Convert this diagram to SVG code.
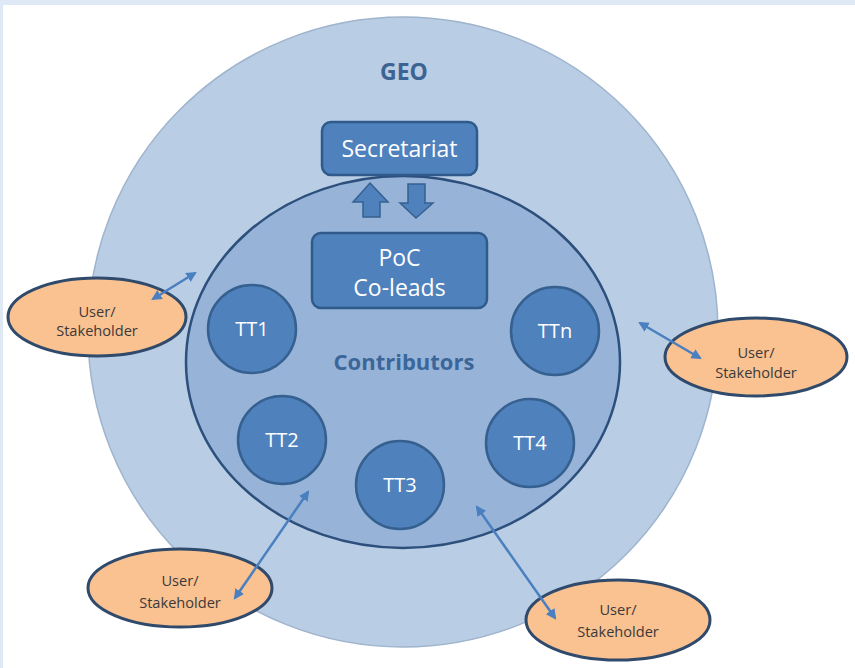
<svg xmlns="http://www.w3.org/2000/svg" width="855" height="668" viewBox="0 0 855 668">
<defs>
<style>
.lbl{font-family:"Open Sans","Liberation Sans",sans-serif;text-anchor:middle}
.wt{fill:#ffffff}
.tt{fill:#4f81bd;stroke:#36608f;stroke-width:2.5}
.box{fill:#4f81bd;stroke:#2f5a8a;stroke-width:2.5}
.usr{fill:#fac191;stroke:#2f4a6b;stroke-width:3}
.ut{fill:#3a3a3a;font-size:14.6px}
.conn{stroke:#4a7fc0;stroke-width:2.5;fill:none;marker-start:url(#ah);marker-end:url(#ah)}
.blk{fill:#4f81bd;stroke:#36608f;stroke-width:1.5}
</style>
<marker id="ah" viewBox="0 0 10 10" refX="8" refY="5" markerWidth="4.2" markerHeight="4.2" orient="auto-start-reverse" markerUnits="strokeWidth">
<path d="M0,0 L10,5 L0,10 z" fill="#4a7fc0"/>
</marker>
</defs>
<rect x="0" y="0" width="855" height="668" fill="#ffffff"/>
<rect x="0" y="0" width="855" height="5" fill="#dfe9f5"/>
<rect x="0" y="0" width="3" height="668" fill="#dfe9f5"/>

<g id="geo">
<circle cx="403" cy="332" r="315" fill="#b9cde5" stroke="#9fb4cd" stroke-width="1.5"/>
<text class="lbl" x="404" y="80" font-size="23" font-weight="700" fill="#3d6393">GEO</text>
</g>

<g id="contributors">
<ellipse cx="403" cy="362" rx="217" ry="186" fill="#97b4d8" stroke="#2c4f7c" stroke-width="2.5"/>
<text class="lbl" x="404" y="370" font-size="22" font-weight="700" fill="#3b669a">Contributors</text>
</g>

<g id="secretariat">
<rect class="box" x="322" y="122" width="155" height="53" rx="9"/>
<text class="lbl wt" x="399.5" y="157" font-size="23">Secretariat</text>
</g>

<g id="poc">
<rect class="box" x="312" y="233" width="175" height="75" rx="9"/>
<text class="lbl wt" x="399.5" y="266" font-size="23">PoC</text>
<text class="lbl wt" x="399.5" y="296" font-size="23">Co-leads</text>
</g>

<g id="flow-arrows">
<path class="blk" d="M370,183 L388,202 L380,202 L380,217 L363,217 L363,202 L353,202 Z"/>
<path class="blk" d="M408,184 L425,184 L425,203 L433,203 L416,218 L400,203 L408,203 Z"/>
</g>

<g id="tt1"><circle class="tt" cx="252" cy="329" r="44"/><text class="lbl wt" x="252" y="336" font-size="20">TT1</text></g>
<g id="ttn"><circle class="tt" cx="555" cy="331" r="44"/><text class="lbl wt" x="555" y="338" font-size="20">TTn</text></g>
<g id="tt2"><circle class="tt" cx="282" cy="440" r="44"/><text class="lbl wt" x="282" y="447" font-size="20">TT2</text></g>
<g id="tt3"><circle class="tt" cx="400" cy="485" r="44"/><text class="lbl wt" x="400" y="492" font-size="20">TT3</text></g>
<g id="tt4"><circle class="tt" cx="530" cy="443" r="44"/><text class="lbl wt" x="530" y="450" font-size="20">TT4</text></g>

<g id="user-left">
<ellipse class="usr" cx="97" cy="317" rx="89" ry="39"/>
<text class="lbl ut" x="97" y="317">User/</text>
<text class="lbl ut" x="97" y="336">Stakeholder</text>
</g>
<g id="user-right">
<ellipse class="usr" cx="756" cy="357" rx="91" ry="39"/>
<text class="lbl ut" x="756" y="358">User/</text>
<text class="lbl ut" x="756" y="378">Stakeholder</text>
</g>
<g id="user-bottom-left">
<ellipse class="usr" cx="180" cy="588" rx="92" ry="39"/>
<text class="lbl ut" x="180" y="586">User/</text>
<text class="lbl ut" x="180" y="608">Stakeholder</text>
</g>
<g id="user-bottom-right">
<ellipse class="usr" cx="618" cy="620" rx="92" ry="40"/>
<text class="lbl ut" x="618" y="615">User/</text>
<text class="lbl ut" x="618" y="637">Stakeholder</text>
</g>

<g id="connectors">
<line class="conn" x1="153" y1="299" x2="195" y2="273"/>
<line class="conn" x1="640" y1="323" x2="700" y2="358"/>
<line class="conn" x1="308" y1="492" x2="235" y2="598"/>
<line class="conn" x1="477" y1="507" x2="555" y2="618"/>
</g>
</svg>
